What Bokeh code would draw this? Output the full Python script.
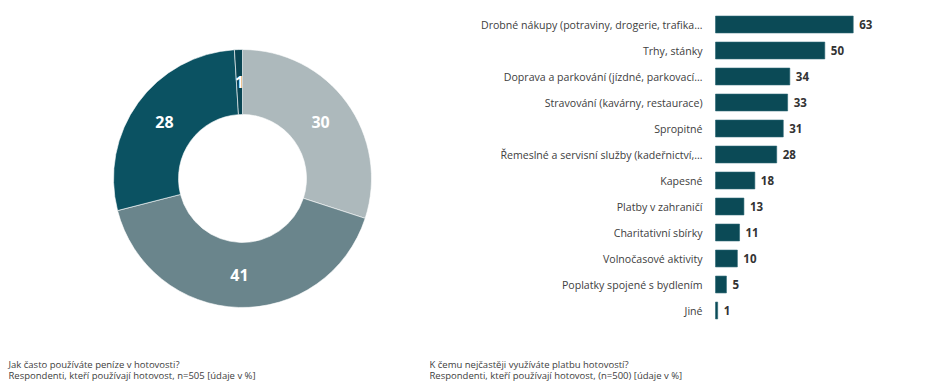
import math
from bokeh.plotting import figure
from bokeh.layouts import row
from bokeh.models import Range1d, Label, ColumnDataSource
from bokeh.core.properties import value
from bokeh.embed import file_html
from bokeh.resources import INLINE

# ---- data ----
donut_values = [30, 41, 28, 1]
donut_colors = ["#adb9bc", "#6a858c", "#0b5262", "#094553"]

categories = [
    "Drobné nákupy (potraviny, drogerie, trafika…",
    "Trhy, stánky",
    "Doprava a parkování (jízdné, parkovací…",
    "Stravování (kavárny, restaurace)",
    "Spropitné",
    "Řemeslné a servisní služby (kadeřnictví,…",
    "Kapesné",
    "Platby v zahraničí",
    "Charitativní sbírky",
    "Volnočasové aktivity",
    "Poplatky spojené s bydlením",
    "Jiné",
]
bar_values = [63, 50, 34, 33, 31, 28, 18, 13, 11, 10, 5, 1]

left_note = ["Jak často používáte peníze v hotovosti?",
             "Respondenti, kteří používají hotovost, n=505 [údaje v %]"]
right_note = ["K čemu nejčastěji využíváte platbu hotovostí?",
              "Respondenti, kteří používají hotovost, (n=500) [údaje v %]"]

FONT = "Open Sans"
TXT = "#404040"
H = 387

# ---- donut ----
W1 = 429
cx, cy = 242, 178  # donut centre, px from the figure's top-left
p1 = figure(width=W1, height=H, output_backend="svg", toolbar_location=None,
            x_range=Range1d(-cx, W1 - cx), y_range=Range1d(-(H - cy), cy),
            min_border=0, outline_line_color=None)
p1.axis.visible = False
p1.grid.visible = False

total = sum(donut_values)
starts, ends, mids = [], [], []
acc = 0.0
for v in donut_values:
    a0 = math.pi / 2 - 2 * math.pi * acc / total
    acc += v
    a1 = math.pi / 2 - 2 * math.pi * acc / total
    starts.append(a0)
    ends.append(a1)
    mids.append((a0 + a1) / 2)

R_in, R_out = 64, 129
src = ColumnDataSource(dict(start=starts, end=ends, color=donut_colors))
p1.annular_wedge(x=0, y=0, inner_radius=R_in, outer_radius=R_out,
                 start_angle="start", end_angle="end", direction="clock",
                 fill_color="color", line_color="#ffffff", line_width=0.6,
                 source=src)
rl = (R_in + R_out) / 2
lab_src = ColumnDataSource(dict(
    x=[rl * math.cos(m) for m in mids],
    y=[rl * math.sin(m) for m in mids],
    t=[str(v) for v in donut_values]))
p1.text(x="x", y="y", text="t", source=lab_src, text_align="center",
        text_baseline="middle", text_color="#ffffff", text_font=value(FONT),
        text_font_style="bold", text_font_size="16px")

for i, line in enumerate(left_note):
    p1.add_layout(Label(x=8, y=23 - 11 * i, x_units="screen", y_units="screen",
                        text=line, text_font=FONT, text_font_size="9.5px",
                        text_color=TXT, text_baseline="middle"))

# ---- bars ----
W2 = 931 - W1
px_per_unit = 2.186
bar_left_px = 286          # bar origin, px from figure left
row_px = 26                # px per category row
first_row_px = 24          # centre of first row, px from top
p2 = figure(width=W2, height=H, output_backend="svg", toolbar_location=None,
            x_range=Range1d(-bar_left_px / px_per_unit,
                            (W2 - bar_left_px) / px_per_unit),
            y_range=Range1d(-(H - first_row_px) / row_px, first_row_px / row_px),
            min_border=0, outline_line_color=None)
p2.grid.visible = False
p2.axis.visible = False

ypos = [-i for i in range(len(categories))]
bsrc = ColumnDataSource(dict(cat=categories, y=ypos, val=bar_values,
                             zero=[0] * len(bar_values),
                             lab=[str(v) for v in bar_values]))
p2.hbar(y="y", right="val", left=0, height=0.65, source=bsrc,
        fill_color="#0b4a56", line_color="#2a6773", line_width=0.6)
p2.text(x="val", y="y", text="lab", source=bsrc, x_offset=6,
        text_baseline="middle", text_align="left", text_color="#333333",
        text_font=value(FONT), text_font_style="bold", text_font_size="11.5px")
p2.text(x="zero", y="y", text="cat", source=bsrc, x_offset=-13,
        text_baseline="middle", text_align="right", text_color=TXT,
        text_font=value(FONT), text_font_size="10.6px")

for i, line in enumerate(right_note):
    p2.add_layout(Label(x=0, y=23 - 11 * i, x_units="screen", y_units="screen",
                        text=line, text_font=FONT, text_font_size="9.5px",
                        text_color=TXT, text_baseline="middle"))

layout = row(p1, p2, spacing=0)
open("out.html", "w").write(file_html(layout, INLINE))
